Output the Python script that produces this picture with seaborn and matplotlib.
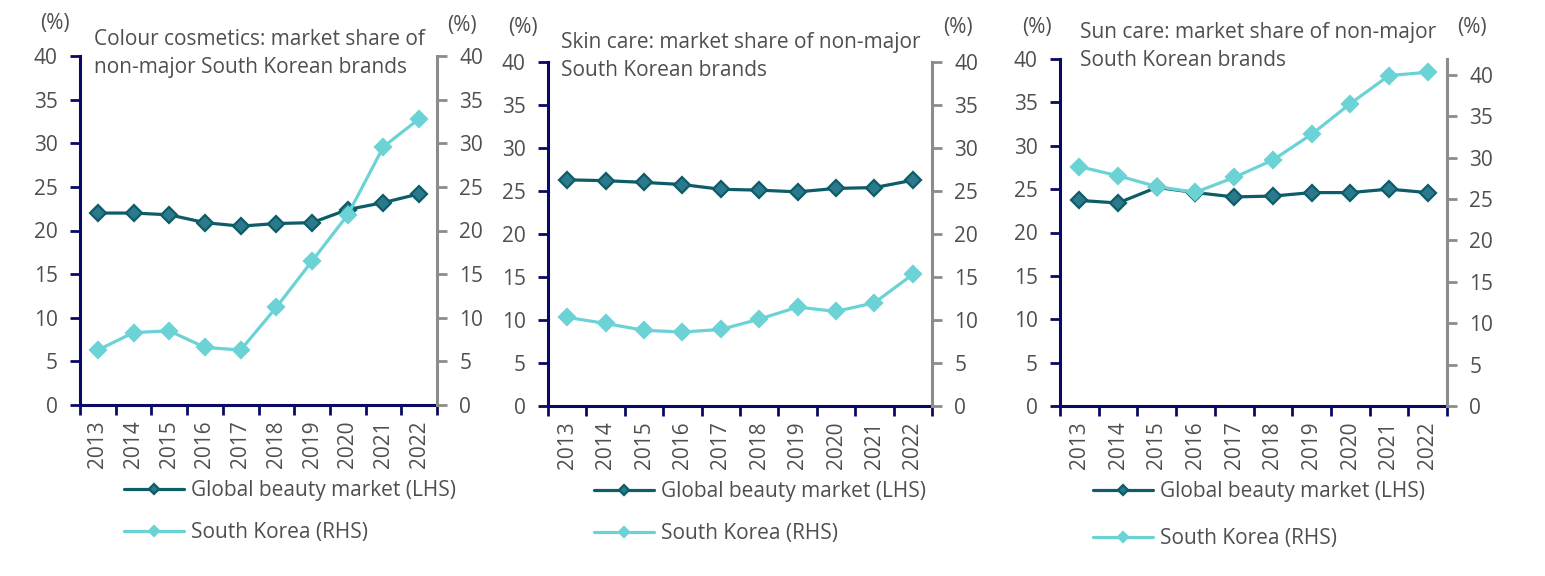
import pandas as pd
import matplotlib.pyplot as plt
import seaborn as sns

# values (%)
years = [2013, 2014, 2015, 2016, 2017, 2018, 2019, 2020, 2021, 2022]

colour_global = [22.0, 22.0, 21.8, 20.9, 20.5, 20.8, 20.9, 22.4, 23.2, 24.2]
colour_korea = [6.3, 8.3, 8.5, 6.6, 6.3, 11.2, 16.5, 21.8, 29.6, 32.8]

skin_global = [26.3, 26.2, 26.0, 25.75, 25.2, 25.1, 24.9, 25.3, 25.4, 26.25]
skin_korea = [10.3, 9.6, 8.8, 8.6, 8.9, 10.1, 11.5, 11.0, 12.0, 15.3]

sun_global = [23.7, 23.4, 25.2, 24.6, 24.1, 24.2, 24.6, 24.6, 25.0, 24.6]
sun_korea = [28.9, 27.8, 26.5, 25.8, 27.6, 29.7, 32.8, 36.5, 39.9, 40.3]

titles = [
    "Colour cosmetics: market share of\nnon-major South Korean brands",
    "Skin care: market share of non-major\nSouth Korean brands",
    "Sun care: market share of non-major\nSouth Korean brands",
]
labels = ["Global beauty market (LHS)", "South Korea (RHS)"]

sns.set_theme(style="white")
plt.rcParams['font.family'] = ['Open Sans', 'DejaVu Sans']

TEXT = '#4f4f52'
NAVY = '#0a0a66'
GREY = '#8c8c8c'
DARK = '#0d5c68'
DARK_FACE = '#2a7a8c'
LIGHT = '#6bd3d6'
FS = 15

W, H = 1545, 576
fig = plt.figure(figsize=(W / 100, H / 100), dpi=100)

# pixel layout of each panel: left, right, top, bottom, right-axis max
panels = [
    dict(l=80, r=437, t=56, b=405, rmax=40,
         glob=colour_global, kor=colour_korea,
         title_xy=(94, 29), pl=(55, 24), pr=(462, 25),
         leg=(124, 480, 1.0)),
    dict(l=548, r=932, t=62, b=406, rmax=40,
         glob=skin_global, kor=skin_korea,
         title_xy=(561, 32), pl=(523, 27), pr=(958, 27),
         leg=(594, 481, 1.0)),
    dict(l=1060, r=1447, t=59, b=406, rmax=41.9,
         glob=sun_global, kor=sun_korea,
         title_xy=(1080, 22), pl=(1037, 27), pr=(1472, 27),
         leg=(1093, 481, 1.25)),
]

for p, title in zip(panels, titles):
    ax = fig.add_axes([p['l'] / W, 1 - p['b'] / H, (p['r'] - p['l']) / W, (p['b'] - p['t']) / H])
    ax2 = ax.twinx()

    df = pd.DataFrame({'year': years, 'glob': p['glob'], 'kor': p['kor']})
    sns.lineplot(data=df, x='year', y='glob', ax=ax, color=DARK, linewidth=2.3,
                 marker='D', markersize=8.5, markerfacecolor=DARK_FACE,
                 markeredgecolor=DARK, markeredgewidth=1.6, legend=False)
    sns.lineplot(data=df, x='year', y='kor', ax=ax2, color=LIGHT, linewidth=2.3,
                 marker='D', markersize=8.5, markerfacecolor=LIGHT,
                 markeredgecolor=LIGHT, markeredgewidth=1.6, legend=False)

    ax.set_xlim(years[0] - 0.5, years[-1] + 0.5)
    ax.set_ylim(0, 40)
    ax2.set_ylim(0, p['rmax'])
    ax.set_yticks(range(0, 41, 5))
    ax2.set_yticks(range(0, 41, 5))
    ax.set_xticks(years)
    ax.set_xticklabels([str(y) for y in years], rotation=90)
    ax.set_xticks([y - 0.5 for y in years] + [years[-1] + 0.5], minor=True)
    ax.set_xlabel('')
    ax.set_ylabel('')
    ax2.set_ylabel('')

    ax.tick_params(axis='x', which='major', length=0, pad=11, labelsize=FS, labelcolor=TEXT)
    ax.tick_params(axis='x', which='minor', length=7, width=2, color=NAVY, direction='out', bottom=True)
    ax.tick_params(axis='y', length=7, width=2, color=NAVY, direction='out', pad=9,
                   labelsize=FS, labelcolor=TEXT, left=True)
    ax2.tick_params(axis='y', length=7, width=2, color=GREY, direction='out', pad=9,
                    labelsize=FS, labelcolor=TEXT, right=True)

    for a in (ax, ax2):
        for side in ('top', 'left', 'right', 'bottom'):
            a.spines[side].set_visible(False)
    ax.spines['left'].set_visible(True)
    ax.spines['left'].set_color(NAVY)
    ax.spines['left'].set_linewidth(2.2)
    ax.spines['bottom'].set_visible(True)
    ax.spines['bottom'].set_color(NAVY)
    ax.spines['bottom'].set_linewidth(2.2)
    ax2.spines['right'].set_visible(True)
    ax2.spines['right'].set_color(GREY)
    ax2.spines['right'].set_linewidth(2.2)

    tx, ty = p['title_xy']
    fig.text(tx / W, 1 - ty / H, title, ha='left', va='top', fontsize=FS,
             color=TEXT, linespacing=1.45)
    fig.text(p['pl'][0] / W, 1 - p['pl'][1] / H, '(%)', ha='center', va='center',
             fontsize=FS, color=TEXT)
    fig.text(p['pr'][0] / W, 1 - p['pr'][1] / H, '(%)', ha='center', va='center',
             fontsize=FS, color=TEXT)

    lx, ly, sp = p['leg']
    handles = [ax.lines[0], ax2.lines[0]]
    fig.legend(handles, labels, loc='upper left',
               bbox_to_anchor=(lx / W, 1 - ly / H), frameon=False, fontsize=FS,
               labelcolor=TEXT, borderpad=0, borderaxespad=0, handlelength=2.9,
               handletextpad=0.3, labelspacing=sp, markerscale=0.65)

plt.savefig('out.png', dpi=100)
